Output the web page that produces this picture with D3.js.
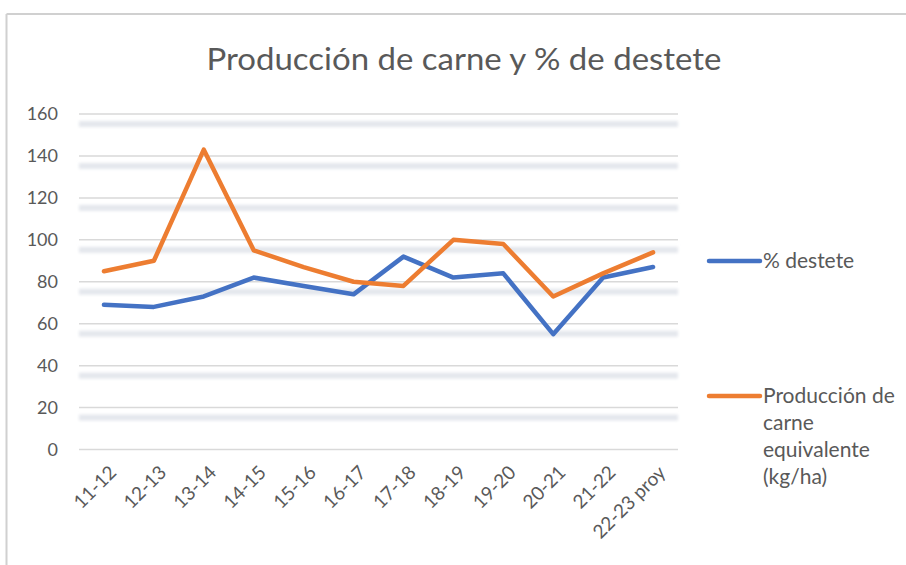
<!DOCTYPE html>
<html>
<head>
<meta charset="utf-8">
<script src="https://cdn.jsdelivr.net/npm/d3@7"></script>
<style>
  body { margin: 0; background: #fff; }
  svg text { font-family: Lato, "Open Sans", sans-serif; fill: #595959; }
</style>
</head>
<body>
<svg id="chart" width="906" height="565"></svg>
<script>
// chart data
const categories = ["11-12", "12-13", "13-14", "14-15", "15-16", "16-17",
                    "17-18", "18-19", "19-20", "20-21", "21-22", "22-23 proy"];
const destete = [69, 68, 73, 82, 78, 74, 92, 82, 84, 55, 82, 87];
const produccion = [85, 90, 143, 95, 87, 80, 78, 100, 98, 73, 84, 94];
const yTicks = [0, 20, 40, 60, 80, 100, 120, 140, 160];

const svg = d3.select("#chart");

// frame (only top and left visible in the crop)
svg.append("line").attr("x1", 6.5).attr("x2", 906).attr("y1", 14).attr("y2", 14)
  .attr("stroke", "#d0d0d0").attr("stroke-width", 2);
svg.append("line").attr("x1", 6.5).attr("x2", 6.5).attr("y1", 14).attr("y2", 565)
  .attr("stroke", "#d0d0d0").attr("stroke-width", 2);

const x = d3.scaleBand().domain(categories).range([79, 678]);
const y = d3.scaleLinear().domain([0, 160]).range([449.5, 114]);

// soft shadow band under each gridline
const defs = svg.append("defs");
defs.append("filter").attr("id", "soft")
  .attr("filterUnits", "userSpaceOnUse")
  .attr("x", 0).attr("y", 0).attr("width", 906).attr("height", 565)
  .append("feGaussianBlur").attr("stdDeviation", 1.8);

const grid = svg.append("g");
yTicks.forEach(t => {
  if (t > 0) {
    grid.append("rect")
      .attr("x", x.range()[0]).attr("width", x.range()[1] - x.range()[0])
      .attr("y", y(t) + 7).attr("height", 6)
      .attr("fill", "#e4e7ed")
      .attr("filter", "url(#soft)");
  }
  grid.append("line")
    .attr("x1", x.range()[0]).attr("x2", x.range()[1])
    .attr("y1", y(t)).attr("y2", y(t))
    .attr("stroke", "#d9d9d9").attr("stroke-width", 1.5);
});

// y axis labels
const yAxis = d3.axisLeft(y).tickValues(yTicks).tickSize(0).tickPadding(0);
const gy = svg.append("g").attr("transform", "translate(58,0)").call(yAxis);
gy.select(".domain").remove();
gy.selectAll("text").attr("font-size", 18).style("font-family", "Lato, sans-serif")
  .attr("fill", "#595959");

// x axis labels
const xAxis = d3.axisBottom(x).tickSize(0).tickPadding(0);
const gx = svg.append("g").attr("transform", "translate(0,469)").call(xAxis);
gx.select(".domain").remove();
gx.selectAll("text")
  .attr("font-size", 19).style("font-family", "Lato, sans-serif")
  .attr("fill", "#595959")
  .attr("text-anchor", "end")
  .attr("dy", "0.35em")
  .attr("transform", "translate(9,0) rotate(-45)");

// lines
const line = d3.line()
  .x((d, i) => x(categories[i]) + x.bandwidth() / 2)
  .y(d => y(d));

const colors = ["#4472C4", "#ED7D31"];
[destete, produccion].forEach((s, k) => {
  svg.append("path").datum(s)
    .attr("d", line)
    .attr("fill", "none")
    .attr("stroke", colors[k])
    .attr("stroke-width", 4.5)
    .attr("stroke-linejoin", "round")
    .attr("stroke-linecap", "round");
});

// title
svg.append("text")
  .attr("x", 464).attr("y", 70)
  .attr("text-anchor", "middle")
  .attr("font-size", 31)
  .attr("textLength", 515)
  .attr("lengthAdjust", "spacingAndGlyphs")
  .text("Producción de carne y % de destete");

// legend
const legend = svg.append("g");
const legendRows = [
  { y: 261, lines: ["% destete"] },
  { y: 396, lines: ["Producción de", "carne", "equivalente", "(kg/ha)"] }
];
legendRows.forEach((r, k) => {
  legend.append("line")
    .attr("x1", 709).attr("x2", 760).attr("y1", r.y).attr("y2", r.y)
    .attr("stroke", colors[k]).attr("stroke-width", 4.5)
    .attr("stroke-linecap", "round");
  const t = legend.append("text")
    .attr("x", 763).attr("y", r.y + 7)
    .attr("font-size", 21);
  r.lines.forEach((ln, j) => {
    t.append("tspan").attr("x", 763).attr("dy", j === 0 ? 0 : 27).text(ln);
  });
});
</script>
</body>
</html>
